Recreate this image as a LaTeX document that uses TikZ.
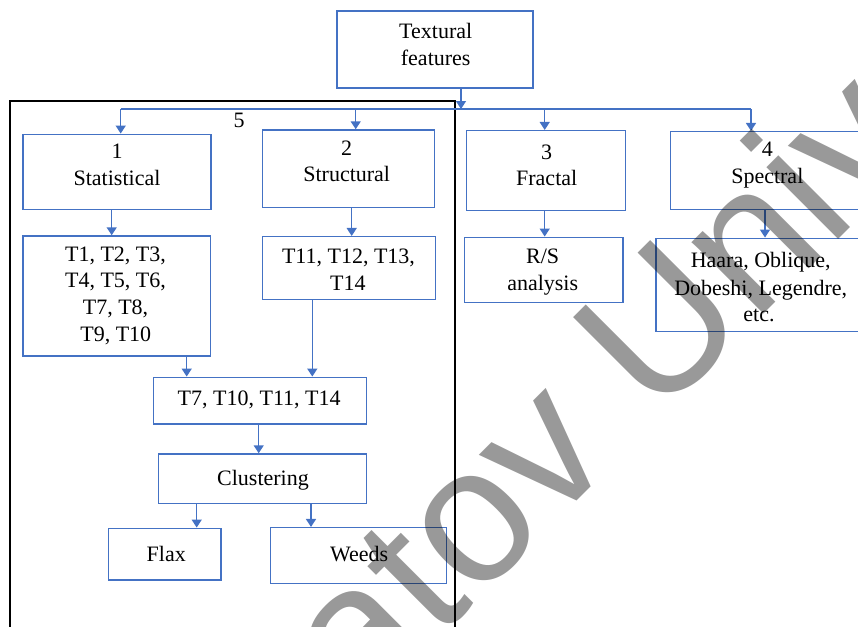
\documentclass[tikz,border=0pt]{standalone}
\usepackage{fontspec}
\setmainfont{Liberation Serif}
\newfontfamily\wmfont{Liberation Sans}
\usetikzlibrary{arrows.meta,fit}
\definecolor{bblue}{RGB}{68,114,196}
\begin{document}
\begin{tikzpicture}[x=1pt,y=-1pt,
  box/.style={draw=bblue,line width=1.5pt,inner sep=0pt},
  lbl/.style={font=\fontsize{22}{26.7}\selectfont,anchor=base,inner sep=0pt},
  conn/.style={draw=bblue,line width=1.5pt},
  arr/.style={conn,-{Triangle[length=8pt,width=10pt]}},
  wm/.style={font=\wmfont\fontsize{192}{230}\selectfont,text=black,text opacity=0.4,rotate=45,anchor=base west,inner sep=0pt}]
\clip (0,0) rectangle (858,626);
% frame 5
\node[draw=black,line width=1.6pt,inner sep=0pt,fit={(10,100.7) (455,660)}] (frame) {};
% boxes
\node[box,fit={(337,11) (533,88)}] (tf) {};
\node[box,fit={(23,134.3) (211,209.7)}] (stat) {};
\node[box,fit={(262.3,130) (434.3,207.7)}] (struc) {};
\node[box,fit={(466.7,130.7) (625.7,210.7)}] (frac) {};
\node[box,fit={(670.3,131.7) (880,209.7)}] (spec) {};
\node[box,fit={(464.7,237.3) (623,302.7)}] (rs) {};
\node[box,fit={(656,238.3) (880,331.7)}] (haar) {};
\node[box,fit={(23,236) (210.7,356)}] (tlA) {};
\node[box,fit={(262.3,236.7) (435.7,299.3)}] (tlB) {};
\node[box,fit={(153.7,377.3) (366.7,424)}] (sel) {};
\node[box,fit={(158.3,454) (366.7,503.3)}] (clus) {};
\node[box,fit={(108.7,528.3) (221,580)}] (flax) {};
\node[box,fit={(270.3,527.7) (446.7,583.3)}] (weeds) {};
% texts
\node[lbl] (tfa) at (435.7,38.3) {Textural};
\node[lbl] (tfb) at (435.7,65) {features};
\node[lbl] (five) at (239,127.7) {5};
\node[lbl] (sta) at (117,158.3) {1};
\node[lbl] (stb) at (117,185) {Statistical};
\node[lbl] (sua) at (346.7,155) {2};
\node[lbl] (sub) at (346.7,181.7) {Structural};
\node[lbl] (fra) at (546.7,159.3) {3};
\node[lbl] (frb) at (546.7,185.7) {Fractal};
\node[lbl] (spa) at (767.3,156.7) {4};
\node[lbl] (spb) at (767.3,183.3) {Spectral};
\node[lbl] (rsa) at (542.7,263.3) {R/S};
\node[lbl] (rsb) at (542.7,290) {analysis};
\node[lbl] (haa) at (760.7,267.3) {Haara, Oblique,};
\node[lbl] (hab) at (760.7,295) {Dobeshi, Legendre,};
\node[lbl] (hac) at (759,321) {etc.};
\node[lbl] (taa) at (115.5,261) {T1, T2, T3,};
\node[lbl] (tab) at (115.5,287.7) {T4, T5, T6,};
\node[lbl] (tac) at (115.5,314.3) {T7, T8,};
\node[lbl] (tad) at (115.8,341.7) {T9, T10};
\node[lbl] (tba) at (348.5,263.3) {T11, T12, T13,};
\node[lbl] (tbb) at (347.8,290) {T14};
\node[lbl] (sela) at (259.2,405) {T7, T10, T11, T14};
\node[lbl] (clusa) at (263,485) {Clustering};
\node[lbl] (flaxa) at (166.3,561) {Flax};
\node[lbl] (weedsa) at (359.2,561) {Weeds};
% connectors
\coordinate (bus0) at (461,109);
\coordinate (busL) at (120.7,109);
\coordinate (bus2) at (355.7,109);
\coordinate (bus3) at (544.7,109);
\coordinate (busR) at (751,109);
\draw[conn] (busL) -- (busR);
\draw[arr] (tf.south -| bus0) -- (bus0);
\draw[arr] (busL) -- (busL |- stat.north);
\draw[arr] (bus2) -- (bus2 |- struc.north);
\draw[arr] (bus3) -- (bus3 |- frac.north);
\draw[arr] (busR) -- (busR |- spec.north);
\draw[arr] ([xshift=-5.3pt]stat.south) -- ([xshift=-5.3pt]stat.south |- tlA.north);
\draw[arr] ([xshift=3.4pt]struc.south) -- ([xshift=3.4pt]struc.south |- tlB.north);
\draw[arr] ([xshift=-1.5pt]frac.south) -- ([xshift=-1.5pt]frac.south |- rs.north);
\draw[arr] ([xshift=-10.15pt]spec.south) -- ([xshift=-10.15pt]spec.south |- haar.north);
\draw[arr] ([xshift=69.85pt]tlA.south) -- ([xshift=69.85pt]tlA.south |- sel.north);
\draw[arr] ([xshift=-36.7pt]tlB.south) -- ([xshift=-36.7pt]tlB.south |- sel.north);
\draw[arr] ([xshift=-1.5pt]sel.south) -- ([xshift=-1.5pt]sel.south |- clus.north);
\draw[arr] ([xshift=-65.8pt]clus.south) -- ([xshift=-65.8pt]clus.south |- flax.north);
\draw[arr] ([xshift=48.5pt]clus.south) -- ([xshift=48.5pt]clus.south |- weeds.north);
% watermark
\node[wm] (wmark) at (150.5,927.5) {Saratov University};
\end{tikzpicture}
\end{document}
